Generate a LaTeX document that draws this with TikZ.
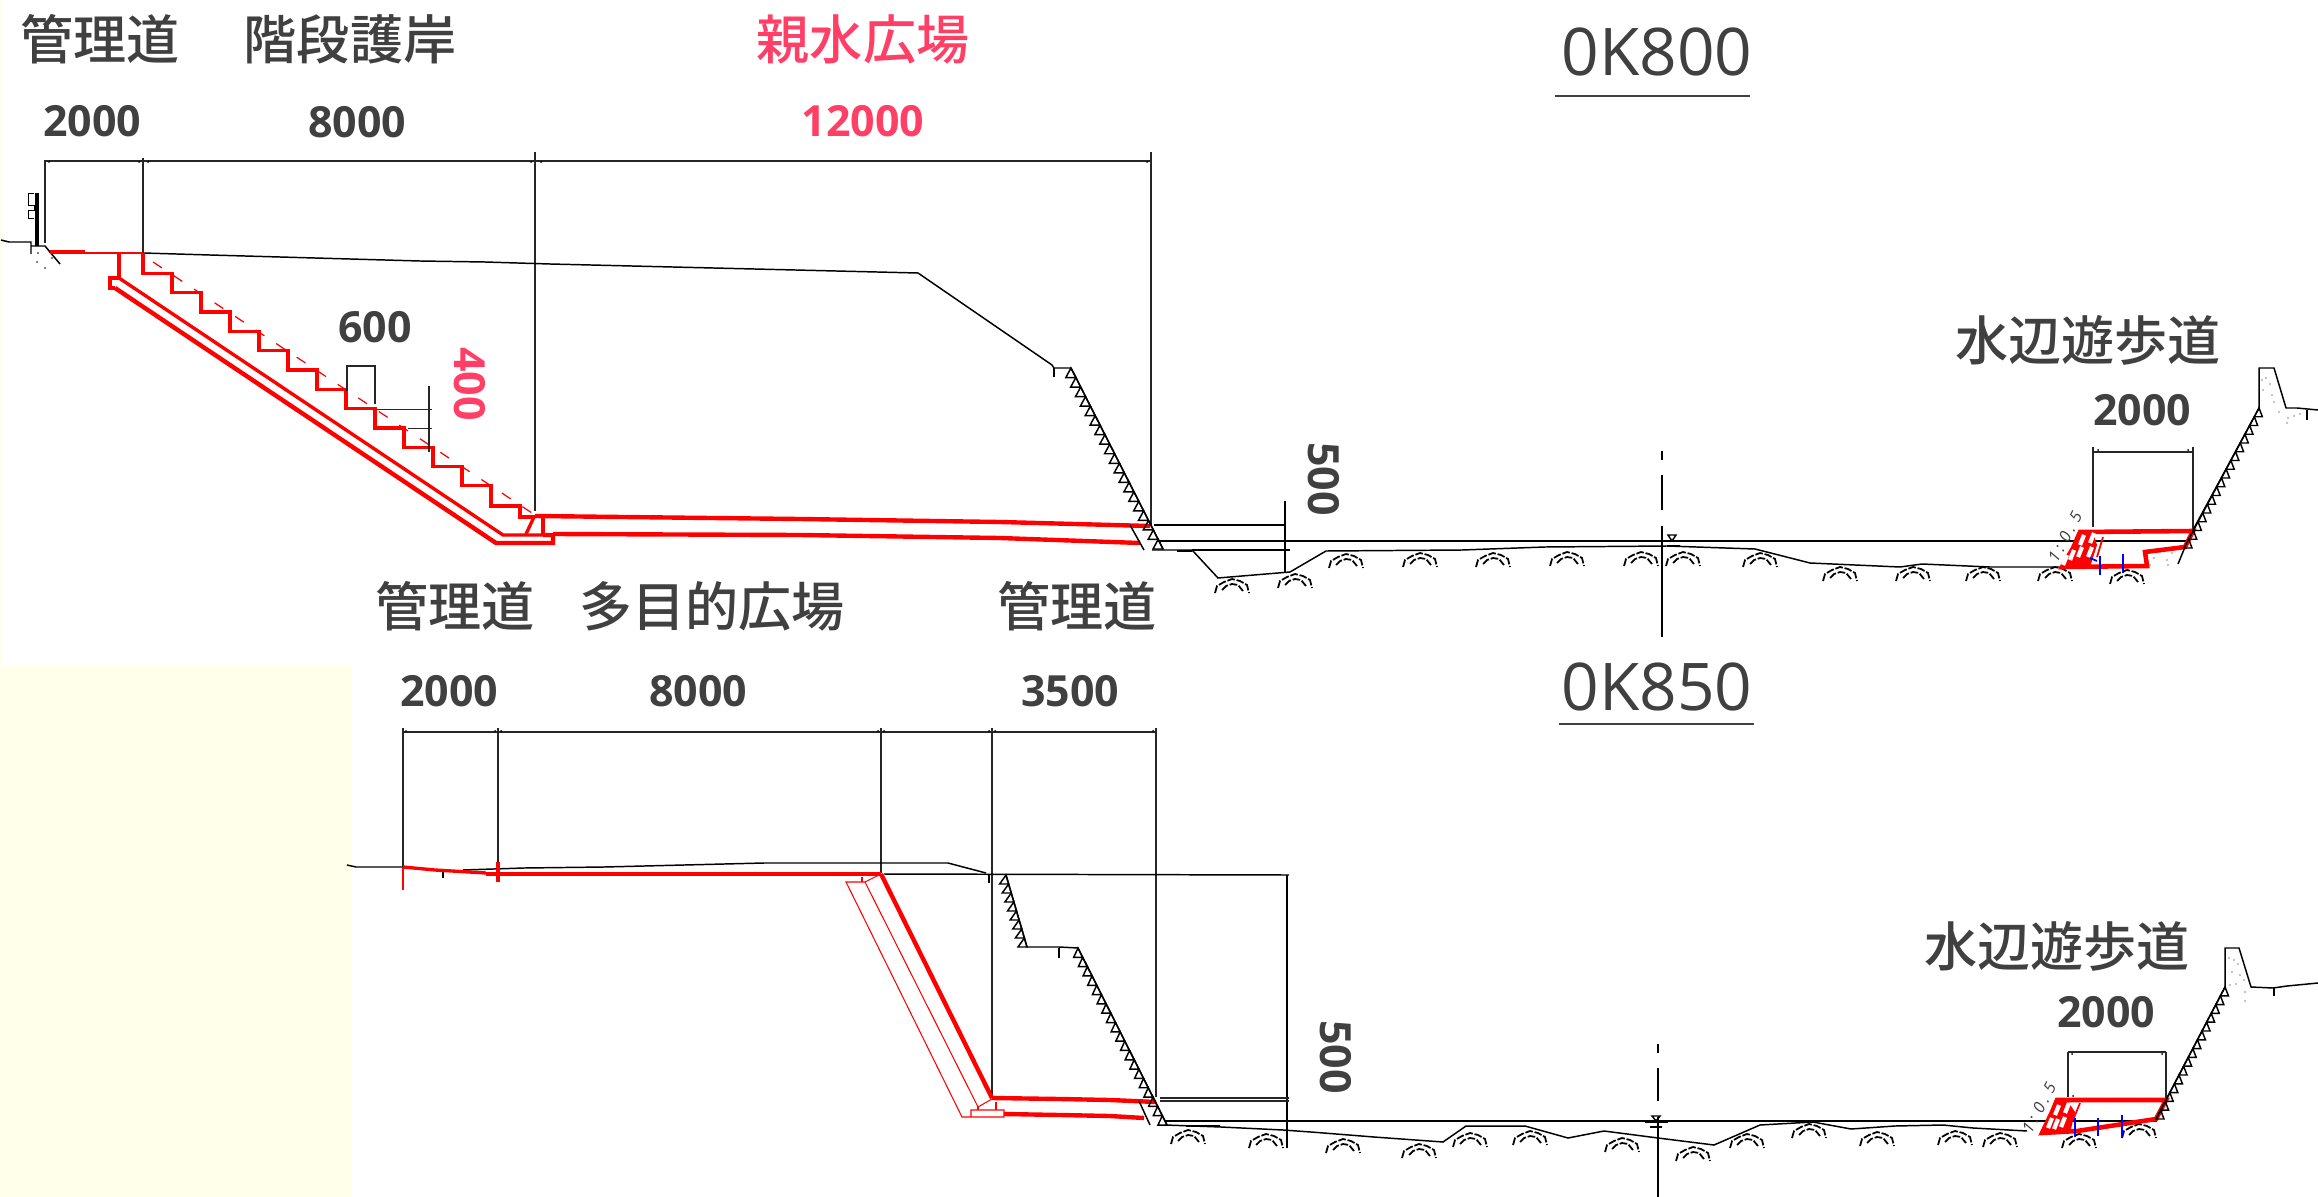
\documentclass[tikz,border=0pt]{standalone}
\usepackage{fontspec}
\setmainfont{Open Sans}
\newfontfamily\cjk{Noto Sans CJK JP Medium}
\usepackage{tikz}
\definecolor{inkgrey}{HTML}{404040}
\definecolor{pinkred}{HTML}{FF3F66}
\definecolor{paleyellow}{HTML}{FFFFEA}

% slope teeth: x1,y1,x2,y2,count,base
\newcommand{\teeth}[6]{%
  \foreach \t in {1,...,#5} {
    \pgfmathsetmacro{\px}{#1+(#3-#1)*(\t-1)/#5}
    \pgfmathsetmacro{\py}{#2+(#4-#2)*(\t-1)/#5}
    \pgfmathsetmacro{\qx}{#1+(#3-#1)*\t/#5}
    \pgfmathsetmacro{\qy}{#2+(#4-#2)*\t/#5}
    \draw[cad] (\px,\py) -- (\qx,\qy) -- ++(#6,0) -- cycle;
  }}
\newcommand{\cobble}[2]{%
  \draw[cad,line width=0.5pt,dash pattern=on 2.2pt off 0.5pt,shift={(#1,#2)}]
    (-17,8) -- (-15,1) -- (-8,-3) -- (0,-6) -- (8,-4) -- (15,0) -- (17,8)
    (-10,5) -- (-6,1) -- (0,-1) -- (6,0) -- (11,6);}
\newcommand{\dimdot}[2]{\fill[black] (#1,#2) circle (1);}

\begin{document}
\begin{tikzpicture}[x=0.01cm,y=-0.01cm,
    cad/.style={line width=0.42pt,black},
    dimline/.style={line width=0.36pt,black!85},
    redthick/.style={line width=1.25pt,red},
    redmid/.style={line width=0.95pt,red},
    redthin/.style={line width=0.3pt,red},
    bluetick/.style={line width=0.5pt,blue},
    word/.style={text=inkgrey,font=\cjk\fontsize{15.1}{16}\selectfont,inner sep=0pt},
    size/.style={text=inkgrey,font=\bfseries\fontsize{12.2}{13}\selectfont,inner sep=0pt},
    station/.style={text=inkgrey,font=\fontsize{18.7}{20}\selectfont,inner sep=0pt},
    slopetext/.style={text=inkgrey,font=\itshape\fontsize{4.6}{5}\selectfont,inner sep=0pt}]
  \useasboundingbox (0,0) rectangle (2318,1197);
  \fill[paleyellow] (0,666) rectangle (351,1197);
  \fill[paleyellow] (0,0) rectangle (2,666);

  \node (roadA)  [word] at (100,39)  {管理道};
  \node (stepsA) [word] at (350,39)  {階段護岸};
  \node (plazaA) [word,text=pinkred] at (863,39) {親水広場};
  \node (stationA) [station] at (1657,52) {0K800};
  \node (walkA)  [word] at (2088,340) {水辺遊歩道};
  \node (dimA)   [size] at (92,121)  {2000};
  \node (dimB)   [size] at (357,122) {8000};
  \node (dimC)   [size,text=pinkred] at (863,121) {12000};
  \node (dimD)   [size] at (375,327) {600};
  \node (dimE)   [size,text=pinkred,rotate=-90] at (470,384) {400};
  \node (dimF)   [size,rotate=-90] at (1324,479) {500};
  \node (dimG)   [size] at (2142,410) {2000};

  \node (roadB)  [word] at (455,606)  {管理道};
  \node (openB)  [word] at (712,606)  {多目的広場};
  \node (roadC)  [word] at (1077,606) {管理道};
  \node (stationB) [station] at (1657,687) {0K850};
  \node (walkB)  [word] at (2057,946) {水辺遊歩道};
  \node (dimH)   [size] at (449,691)  {2000};
  \node (dimI)   [size] at (698,691)  {8000};
  \node (dimJ)   [size] at (1070,691) {3500};
  \node (dimK)   [size,rotate=-90] at (1336,1057) {500};
  \node (dimL)   [size] at (2106,1012) {2000};

  \draw[inkgrey,line width=0.75pt] (1555,96) -- (1750,96);
  \draw[inkgrey,line width=0.75pt] (1559,724) -- (1754,724);

  % upper section
  \draw[dimline] (45,161) -- (1151,161);
  \draw[dimline] (45,160) -- (45,243);
  \draw[dimline] (143,158) -- (143,253);
  \draw[dimline] (535,152) -- (535,511);
  \draw[dimline] (1151,152) -- (1151,525);
  \foreach \x in {49,139,148,531,541,1147} {\dimdot{\x}{162}}

  \draw[line width=0.9pt,black] (37,193) -- (37,246);
  \draw[line width=0.28pt] (34,193) -- (28,193) -- (28,205) -- (34,205) -- (34,210) -- (28,210) -- (28,218) -- (34,218);
  \draw[cad] (1,240) -- (9,242) -- (31,242) -- (31,254);
  \draw[cad] (31,246) -- (45,246) -- (60,264);
  \foreach \x/\y in {37/262,45/268,52/258,38/253,50/252} {\fill[black] (\x,\y) circle (0.8);}

  \draw[redmid] (50,252) -- (85,252);
  \draw[redthin,line width=0.75pt] (85,253) -- (143,253);
  \draw[cad] (143,253) -- (210,255) -- (280,257) -- (350,259) -- (420,261) -- (485,262) -- (550,264) -- (918,273) -- (1052,365) -- (1054,368) -- (1071,368);
  \draw[cad] (1054,368) -- (1054,377);

  \draw[redmid] (143,253) \foreach \s in {0,...,11} {
      -- ({143+29*\s},{273.5+19.3*\s}) -- ({172+29*\s},{273.5+19.3*\s}) }
      -- (491,506) -- (520,506) -- (520,517) -- (535,517);
  \draw[redthin,dash pattern=on 3pt off 4pt,line width=0.35pt] (153,262) -- (532,513);
  \draw[redmid] (119,253) -- (119,278) -- (110,278) -- (110,288) -- (115,288);
  \draw[redmid] (119,278) -- (503,535) -- (543,535);
  \draw[redthick] (115,288) -- (496,543) -- (553,543) -- (553,535) -- (543,535);
  \draw[redmid] (543,517) -- (543,535);
  \draw[redmid] (534,517) -- (526,534);
  \draw[redthick] (535,516) -- (800,519) -- (1000,522) -- (1150,526);
  \draw[redthick] (553,534) -- (800,535) -- (1000,538) -- (1140,543);
  \draw[cad] (1130,525) -- (1144,550);

  \draw[cad] (1071,368) -- (1163,549);
  \teeth{1071}{368}{1163}{549}{19}{-10}
  \draw[cad] (1154,525) -- (1285,525);
  \draw[cad] (1158,541) -- (2190,541);
  \draw[cad] (1152,550) -- (1192,550) -- (1218,578) -- (1290,572) -- (1326,551) -- (1462,550) -- (1545,547) -- (1667,546) -- (1755,549) -- (1810,563) -- (1900,567) -- (1922,564) -- (1990,567) -- (2063,567);
  \draw[cad] (1192,550) -- (1290,550);
  \draw[line width=0.7pt,black] (1177,551) -- (1192,551);
  \draw[cad] (1285,501) -- (1285,572);
  \foreach \y/\z in {451/460,475/510,526/637} {\draw[cad] (1662,\y) -- (1662,\z);}
  \draw[cad] (1668,535) -- (1676,535) -- (1672,541) -- cycle;
  \draw[line width=0.7pt,black] (1663,541) -- (1686,541);
  \draw[line width=0.7pt,black] (1667,546) -- (1680,546);

  \foreach \x/\y in {1232/585,1295/580,1346/560,1420/559,1493/559,1567/558,1641/558,1683/558,1760/559,1840/573,1913/573,1983/573,2055/573,2127/576} {\cobble{\x}{\y}}

  \draw[dimline] (347,391) -- (347,366) -- (375,366) -- (375,404);
  \draw[dimline] (377,409.5) -- (432,409.5);
  \draw[dimline] (408,428.6) -- (432,428.6);
  \draw[dimline] (429,386) -- (429,452);

  % upper section, right bank
  \draw[dimline] (2093,452) -- (2193,452);
  \draw[dimline] (2093,447) -- (2093,527);
  \draw[dimline] (2193,447) -- (2193,529);
  \dimdot{2098}{450} \dimdot{2188}{450}
  \fill[red] (2062,567) -- (2073,548) -- (2080,532) -- (2093,532) -- (2097,545) -- (2090,567) -- cycle;
  \draw[redthick,line width=1.3pt] (2080,532) -- (2193,531) -- (2185,547) -- (2145,552) -- (2147,566) -- (2062,567) -- (2073,548) -- cycle;
  \draw[redthin,line width=0.5pt] (2103,537) -- (2097,557);
  \foreach \x/\y in {2082/540,2072/555,2090/552,2092/538,2080/552,2065/560} {\draw[white,line width=1.2pt] (\x-2,\y+5) -- (\x+2,\y-5);}
  \draw[bluetick] (2100,556) -- (2100,575);
  \draw[bluetick] (2123,554) -- (2123,573);
  \draw[bluetick] (2090,558) -- (2097,561);
  \node (gradeA) [slopetext,rotate=62] at (2065,537) {1 : 0 . 5};
  \draw[cad] (2185,547) -- (2178,564);
  \draw[cad] (2193,530) -- (2259,408);
  \teeth{2259}{408}{2184}{548}{16}{8}
  \draw[cad] (2259,408) -- (2259,368) -- (2274,368) -- (2286,408) -- (2297,408) -- (2318,410);
  \draw[cad] (2307,410) -- (2307,420);
  \foreach \x/\y in {2262/380,2266/378,2263/390,2270/384,2272/395,2274/402,2279/412,2288/418,2294/416,2300/414,2287/423,2154/558,2160/552,2167/560,2172/553,2150/565,2168/565} {\fill[black] (\x,\y) circle (0.7);}

  % lower section
  \draw[dimline] (403,732) -- (1156,732);
  \draw[dimline] (403,728) -- (403,867);
  \draw[dimline] (498,728) -- (498,870);
  \draw[dimline] (881,728) -- (881,873);
  \draw[dimline] (992,728) -- (992,1098);
  \draw[dimline] (1156,728) -- (1156,1097);
  \foreach \x in {406,495,501,878,884,989,995,1153} {\dimdot{\x}{731}}

  \draw[cad] (347,865) -- (356,867) -- (403,867);
  \draw[cad] (463,870) -- (524,868) -- (604,867) -- (684,865) -- (764,863) -- (948,863) -- (986,873);
  \draw[cad] (443,872) -- (443,878);
  \draw[redmid] (403,867) -- (435,870) -- (486,873);
  \draw[redthick,line width=1.3pt] (486,874) -- (881,874);
  \draw[redthin,line width=0.5pt] (403,867) -- (403,890);
  \draw[redmid] (498,862) -- (498,882);
  \draw[cad] (884,874) -- (1289,875);
  \draw[cad] (989,875) -- (989,883);
  \draw[cad] (1287,875) -- (1287,1148);

  \draw[redthick] (881,874) -- (992,1098);
  \draw[redthin] (881,874) -- (865,882) -- (846,882) -- (962,1117) -- (1004,1117) -- (1004,1110) -- (971,1110) -- (971,1117);
  \draw[redthin] (865,882) -- (978,1107) -- (992,1099);
  \draw[redthin] (862,877) -- (862,882);
  \draw[redthin] (978,1107) -- (978,1110);
  \draw[redthin] (996,1102) -- (996,1110);
  \draw[redthick] (992,1098) -- (1060,1099) -- (1110,1100) -- (1156,1102);
  \draw[redthick] (1004,1114) -- (1060,1115) -- (1110,1116) -- (1144,1118);
  \draw[cad] (1139,1101) -- (1150,1125);

  \draw[cad] (1006,875) -- (1027,947) -- (1059,947) -- (1078,948) -- (1167,1125);
  \draw[cad] (1059,948) -- (1059,958);
  \teeth{1006}{875}{1027}{947}{8}{-9}
  \teeth{1078}{948}{1167}{1125}{19}{-9}

  \draw[dimline] (1160,1098) -- (1289,1098);
  \draw[dimline] (1160,1101) -- (1289,1101);
  \draw[cad] (1165,1121) -- (2157,1121);
  \draw[cad] (1165,1125) -- (1221,1127) -- (1283,1130) -- (1311,1132) -- (1374,1137) -- (1443,1142) -- (1466,1126) -- (1525,1126) -- (1568,1138) -- (1604,1131) -- (1658,1138) -- (1714,1145) -- (1760,1125) -- (1813,1122) -- (1851,1129) -- (1895,1126) -- (1943,1125) -- (1973,1128) -- (2027,1131);
  \draw[line width=0.7pt,black] (1186,1126) -- (1220,1126);
  \foreach \y/\z in {1044/1053,1068/1101,1117/1197} {\draw[cad] (1658,\y) -- (1658,\z);}
  \draw[cad] (1652,1116) -- (1660,1116) -- (1656,1121) -- cycle;
  \draw[line width=0.7pt,black] (1645,1122) -- (1668,1122);
  \draw[line width=0.7pt,black] (1650,1127) -- (1662,1127);

  \foreach \x/\y in {1188/1136,1266/1140,1343/1145,1419/1150,1470/1139,1530/1137,1622/1144,1693/1153,1747/1140,1809/1130,1877/1138,1955/1137,2000/1139,2079/1140,2139/1130} {\cobble{\x}{\y}}

  % lower section, right bank
  \draw[dimline] (2068,1052) -- (2166,1052);
  \draw[dimline] (2068,1052) -- (2068,1097);
  \draw[dimline] (2166,1052) -- (2166,1100);
  \dimdot{2072}{1054} \dimdot{2162}{1054} \dimdot{2073}{1096}
  \fill[red] (2042,1133) -- (2052,1112) -- (2057,1100) -- (2067,1100) -- (2075,1112) -- (2070,1133) -- cycle;
  \draw[redthick,line width=1.3pt] (2057,1100) -- (2166,1100) -- (2156,1119) -- (2077,1131) -- (2042,1133) -- (2052,1112) -- cycle;
  \foreach \x/\y in {2057/1110,2050/1123,2063/1122,2067/1108,2056/1124} {\draw[white,line width=1.2pt] (\x-2,\y+5) -- (\x+2,\y-5);}
  \draw[redthin,line width=0.5pt] (2080,1103) -- (2073,1120);
  \draw[bluetick] (2075,1118) -- (2075,1137);
  \draw[bluetick] (2098,1118) -- (2098,1136);
  \draw[bluetick] (2122,1115) -- (2122,1137);
  \node (gradeB) [slopetext,rotate=62] at (2039,1108) {1 : 0 . 5};
  \draw[cad] (2156,1119) -- (2225,987);
  \teeth{2225}{987}{2156}{1119}{15}{8}
  \draw[cad] (2225,987) -- (2225,948) -- (2239,948) -- (2251,987) -- (2273,988) -- (2287,986) -- (2318,983);
  \draw[cad] (2274,988) -- (2274,996);
  \foreach \x/\y in {2229/958,2234/960,2238/964,2232/972,2240/975,2236/984,2244/980,2245/992,2245/1001,2230/985} {\fill[black] (\x,\y) circle (0.7);}
\end{tikzpicture}
\end{document}
